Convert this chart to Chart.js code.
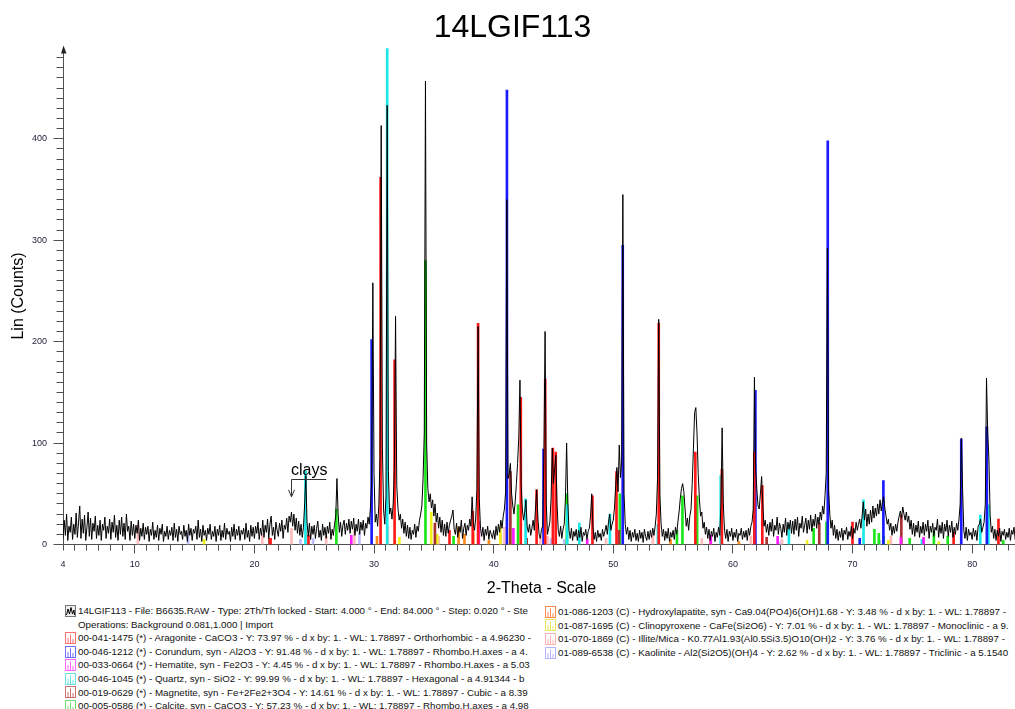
<!DOCTYPE html>
<html>
<head>
<meta charset="utf-8">
<title>14LGIF113</title>
<script src="https://cdn.jsdelivr.net/npm/chart.js@4.4.1/dist/chart.umd.min.js"></script>
<style>
    html, body { margin: 0; padding: 0; background: #fff; overflow: hidden; }
    #wrap { position: relative; width: 1015px; height: 709px; overflow: hidden; }
    #xrd { position: absolute; left: 0; top: 0; }
    .legend { position: absolute; font-family: "Liberation Sans", Arial, sans-serif; font-size: 9.75px; color: #111; white-space: nowrap; overflow: hidden; }
    .legend .row { height: 13.6px; line-height: 13.6px; display: flex; align-items: center; }
    .legend svg { flex: none; margin-right: 2px; }
    .legend .indent { padding-left: 13px; }
</style>
</head>
<body>
<div id="wrap">
    <canvas id="xrd" width="1035" height="600" style="width:1035px;height:600px"></canvas>
    <div class="legend" id="legend-left" style="left:65px;top:604px;width:468px"></div>
    <div class="legend" id="legend-right" style="left:545px;top:605px;width:470px"></div>
</div>
<script>
// scan: Start 4.000, counts read every 0.1 deg (one row per degree)
const angleStart = 4.0;
const angleStep = 0.1;
const counts = [
    6, 24, 9, 30, 4, 18, 12, 27, 5, 20,        // 4
    10, 31, 7, 22, 38, 6, 25, 11, 29, 4,       // 5
    17, 32, 8, 26, 5, 21, 13, 28, 6, 19,       // 6
    9, 24, 4, 20, 14, 27, 6, 18, 11, 25,       // 7
    5, 22, 12, 29, 7, 19, 4, 24, 10, 27,       // 8
    8, 21, 5, 30, 13, 18, 4, 23, 9, 20,        // 9
    6, 19, 11, 24, 4, 16, 8, 21, 5, 17,        // 10
    10, 18, 3, 15, 9, 22, 5, 14, 7, 19,        // 11
    4, 16, 10, 20, 3, 13, 8, 18, 5, 14,        // 12
    9, 17, 4, 21, 7, 15, 3, 18, 10, 13,        // 13
    5, 19, 8, 14, 3, 20, 9, 16, 4, 15,         // 14
    11, 18, 5, 24, 7, 15, 3, 19, 9, 14,        // 15
    4, 16, 10, 20, 5, 13, 8, 18, 3, 15,        // 16
    9, 19, 4, 14, 7, 21, 5, 16, 10, 13,        // 17
    3, 17, 8, 20, 5, 15, 9, 18, 4, 14,         // 18
    10, 16, 5, 21, 7, 14, 3, 19, 8, 17,        // 19
    6, 18, 11, 22, 5, 16, 9, 24, 7, 19,        // 20
    12, 25, 6, 20, 28, 9, 17, 5, 22, 14,       // 21
    8, 21, 13, 24, 6, 19, 15, 26, 12, 28,      // 22
    22, 32, 18, 30, 14, 26, 11, 23, 9, 20,     // 23
    7, 17, 40, 68, 22, 8, 21, 5, 18, 10,       // 24
    19, 6, 16, 23, 7, 14, 4, 20, 9, 17,        // 25
    6, 18, 11, 22, 5, 15, 9, 20, 28, 65,       // 26
    30, 12, 22, 8, 19, 24, 10, 21, 14, 25,     // 27
    11, 23, 15, 26, 9, 20, 13, 25, 10, 22,     // 28
    14, 24, 9, 21, 16, 27, 20, 36, 62, 258,    // 29
    70, 22, 30, 18, 38, 85, 413, 95, 34, 20,   // 30
    48, 433, 72, 30, 36, 25, 40, 75, 225, 58,  // 31
    36, 24, 30, 16, 25, 11, 22, 8, 19, 6,      // 32
    17, 5, 14, 10, 20, 7, 18, 13, 24, 30,      // 33
    38, 65, 110, 457, 100, 55, 42, 50, 36, 44, // 34
    28, 40, 22, 31, 16, 27, 12, 24, 9, 20,     // 35
    8, 22, 11, 19, 24, 28, 34, 15, 10, 21,     // 36
    7, 18, 12, 24, 6, 16, 21, 9, 19, 14,       // 37
    25, 18, 47, 22, 14, 26, 55, 215, 45, 16,   // 38
    8, 17, 4, 15, 9, 18, 5, 14, 10, 6,         // 39
    14, 5, 18, 9, 20, 12, 24, 16, 28, 35,      // 40
    52, 340, 65, 70, 80, 50, 38, 30, 42, 60,   // 41
    80, 105, 162, 60, 34, 24, 32, 44, 18, 12,  // 42
    20, 9, 16, 24, 14, 36, 54, 26, 10, 6,      // 43
    15, 18, 90, 210, 40, 10, 16, 22, 45, 95,   // 44
    60, 75, 88, 40, 14, 8, 18, 6, 15, 20,      // 45
    45, 100, 42, 14, 6, 16, 4, 13, 8, 15,      // 46
    4, 14, 7, 17, 3, 12, 9, 15, 5, 13,         // 47
    16, 28, 50, 18, 5, 12, 3, 14, 7, 11,       // 48
    4, 15, 8, 13, 19, 10, 22, 30, 14, 20,      // 49
    24, 36, 58, 76, 52, 98, 66, 82, 345, 50,   // 50
    20, 10, 17, 5, 14, 3, 12, 7, 15, 4,        // 51
    11, 3, 14, 6, 12, 2, 15, 8, 4, 13,         // 52
    5, 14, 7, 16, 9, 18, 30, 65, 222, 48,      // 53
    20, 8, 15, 4, 13, 6, 16, 3, 12, 7,         // 54
    14, 5, 17, 10, 22, 32, 45, 55, 60, 52,     // 55
    35, 18, 26, 14, 28, 35, 60, 95, 130, 135,  // 56
    110, 70, 45, 28, 32, 16, 22, 10, 17, 6,    // 57
    15, 4, 13, 8, 16, 3, 12, 7, 17, 9,         // 58
    40, 115, 40, 14, 6, 15, 3, 13, 8, 16,      // 59
    4, 12, 7, 15, 3, 11, 9, 16, 5, 13,         // 60
    7, 14, 4, 16, 9, 18, 22, 35, 165, 75,      // 61
    55, 38, 35, 50, 67, 40, 18, 24, 12, 20,    // 62
    9, 22, 13, 25, 8, 19, 14, 27, 10, 21,      // 63
    16, 7, 20, 12, 26, 9, 22, 15, 24, 11,      // 64
    23, 10, 25, 14, 27, 8, 21, 16, 28, 12,     // 65
    19, 26, 11, 24, 15, 29, 13, 25, 18, 30,    // 66
    16, 27, 20, 32, 24, 38, 30, 48, 70, 292,   // 67
    55, 30, 16, 24, 9, 19, 6, 15, 4, 13,       // 68
    7, 16, 4, 14, 10, 17, 5, 13, 8, 18,        // 69
    6, 16, 11, 22, 14, 20, 25, 16, 28, 42,     // 70
    24, 35, 18, 30, 20, 34, 22, 38, 26, 36,    // 71
    28, 40, 30, 44, 33, 42, 47, 36, 28, 20,    // 72
    25, 14, 21, 9, 18, 11, 20, 13, 22, 28,     // 73
    33, 26, 37, 30, 24, 32, 22, 28, 15, 24,    // 74
    10, 21, 8, 19, 12, 23, 7, 18, 11, 22,      // 75
    9, 20, 13, 24, 6, 18, 12, 21, 8, 17,       // 76
    14, 25, 7, 19, 11, 22, 6, 20, 13, 24,      // 77
    8, 19, 12, 23, 7, 17, 10, 21, 14, 25,      // 78
    40, 105, 55, 14, 6, 17, 4, 15, 9, 12,      // 79
    5, 16, 8, 14, 4, 18, 20, 25, 12, 17,       // 80
    22, 40, 164, 110, 85, 30, 12, 18, 6, 15,   // 81
    4, 14, 8, 16, 3, 13, 9, 15, 5, 12,         // 82
    7, 16, 4, 14, 10, 17, 5, 13, 8, 15,        // 83
    9                                          // 84
];

// stick patterns [2-theta, height], heights already scaled by Y %
const aragonite = [[24.52, 9], [30.55, 362], [31.72, 182], [36.31, 14], [38.25, 33], [38.70, 218], [42.27, 145],
    [43.59, 54], [44.31, 163], [44.95, 95], [45.19, 91], [48.26, 48], [50.27, 72], [53.80, 218], [56.86, 91],
    [59.08, 74], [61.79, 91], [62.46, 58], [70.0, 22], [78.45, 12], [82.2, 25], [21.35, 6]];
const corundum = [[29.80, 202], [41.11, 448], [44.17, 94], [50.79, 295], [61.88, 152], [67.93, 398],
    [70.6, 6], [72.58, 63], [79.09, 104], [81.23, 116]];
const hematite = [[28.10, 9], [38.76, 23], [41.65, 16], [47.82, 5], [58.15, 9], [63.74, 8], [74.04, 7], [75.94, 7]];
const quartz = [[24.27, 73], [31.10, 489], [42.67, 45], [46.15, 39], [47.16, 21], [49.72, 30], [53.73, 20],
    [58.98, 68], [64.68, 20], [70.92, 44], [75.8, 5], [80.68, 29], [81.36, 39]];
const magnetite = [[21.26, 6], [35.09, 21], [41.40, 72], [42.76, 6], [50.47, 14], [62.82, 7], [67.22, 21], [74.08, 29]];
const calcite = [[26.85, 35], [34.30, 280], [36.65, 8], [42.04, 39], [46.12, 50], [50.55, 50], [55.32, 14],
    [55.78, 48], [57.01, 48], [66.75, 16], [67.82, 22], [71.83, 15], [72.20, 11], [72.60, 8], [74.78, 6],
    [76.80, 13], [77.96, 8], [82.6, 4]];
const hydroxylapatite = [[30.25, 8], [37.07, 17], [37.56, 10], [38.30, 12], [39.6, 4], [54.79, 5], [58.13, 7], [60.5, 3]];
const clinopyroxene = [[15.8, 5], [31.75, 4], [32.12, 7], [34.78, 32], [35.28, 10], [40.56, 17], [41.36, 16],
    [66.2, 4], [73.0, 4], [77.2, 3]];
const illite = [[10.27, 19], [20.66, 10], [23.10, 16], [26.0, 8], [28.36, 14], [31.16, 18], [35.4, 8], [40.6, 11],
    [40.9, 17], [43.9, 8], [44.5, 8], [49.4, 6], [53.3, 10], [57.4, 6], [61.5, 8], [64.1, 5], [73.2, 8]];
const kaolinite = [[14.45, 12], [23.85, 5], [24.9, 6], [28.78, 12], [44.8, 6], [45.9, 5], [64.0, 3], [72.3, 4]];

const stickSets = [aragonite, corundum, hematite, quartz, magnetite, calcite, hydroxylapatite, clinopyroxene, illite, kaolinite];
const stickColors = ["#ff1a1a", "#1a1aff", "#ff1aff", "#1ae8e8", "#a83232", "#1ae61a", "#ff8a1a", "#f0f01a", "#ffbcbc", "#bcbcff"];
const iconColors = ["#ff7070", "#7070ff", "#ff66ff", "#66e0e0", "#cc7070", "#70e070", "#ff8a50", "#e8e860", "#ffb4b4", "#b4b4ff"];

const scanLines = [
    "14LGIF113 - File: B6635.RAW - Type: 2Th/Th locked - Start: 4.000 ° - End: 84.000 ° - Step: 0.020 ° - Ste",
    "Operations: Background 0.081,1.000 | Import"
];
const phaseLines = [
    "00-041-1475 (*) - Aragonite - CaCO3 - Y: 73.97 % - d x by: 1. - WL: 1.78897 - Orthorhombic - a 4.96230 -",
    "00-046-1212 (*) - Corundum, syn - Al2O3 - Y: 91.48 % - d x by: 1. - WL: 1.78897 - Rhombo.H.axes - a 4.",
    "00-033-0664 (*) - Hematite, syn - Fe2O3 - Y: 4.45 % - d x by: 1. - WL: 1.78897 - Rhombo.H.axes - a 5.03",
    "00-046-1045 (*) - Quartz, syn - SiO2 - Y: 99.99 % - d x by: 1. - WL: 1.78897 - Hexagonal - a 4.91344 - b",
    "00-019-0629 (*) - Magnetite, syn - Fe+2Fe2+3O4 - Y: 14.61 % - d x by: 1. - WL: 1.78897 - Cubic - a 8.39",
    "00-005-0586 (*) - Calcite, syn - CaCO3 - Y: 57.23 % - d x by: 1. - WL: 1.78897 - Rhombo.H.axes - a 4.98",
    "01-086-1203 (C) - Hydroxylapatite, syn - Ca9.04(PO4)6(OH)1.68 - Y: 3.48 % - d x by: 1. - WL: 1.78897 -",
    "01-087-1695 (C) - Clinopyroxene - CaFe(Si2O6) - Y: 7.01 % - d x by: 1. - WL: 1.78897 - Monoclinic - a 9.",
    "01-070-1869 (C) - Illite/Mica - K0.77Al1.93(Al0.5Si3.5)O10(OH)2 - Y: 3.76 % - d x by: 1. - WL: 1.78897 -",
    "01-089-6538 (C) - Kaolinite - Al2(Si2O5)(OH)4 - Y: 2.62 % - d x by: 1. - WL: 1.78897 - Triclinic - a 5.1540"
];

const FONT = '"Liberation Sans", Arial, sans-serif';
Chart.defaults.font.family = FONT;

const tracePoints = counts.map((c, i) => ({ x: Math.round((angleStart + i * angleStep) * 100) / 100, y: c }));

const datasets = [{
    type: "line",
    label: "14LGIF113",
    data: tracePoints,
    borderColor: "#000",
    borderWidth: 1,
    pointRadius: 0,
    tension: 0,
    fill: false,
    order: 0
}];
stickSets.forEach((set, i) => {
    datasets.push({
        type: "bar",
        label: phaseLines[i].split(" - ")[1],
        data: set.map(s => ({ x: s[0], y: s[1] })),
        backgroundColor: stickColors[i],
        borderWidth: 0,
        barThickness: 2,
        grouped: false,
        order: 1
    });
});

// axis lines, ticks and the arrow at the top of the y axis
const axesPlugin = {
    id: "xrdAxes",
    beforeDatasetsDraw(chart) {
        const { ctx, chartArea: a, scales: { x, y } } = chart;
        const x0 = Math.floor(a.left) + 0.5;
        const y0 = Math.floor(a.bottom) + 0.5;
        ctx.save();
        ctx.strokeStyle = "#505050";
        ctx.lineWidth = 1;
        ctx.beginPath();
        ctx.moveTo(x0, a.top + 2);
        ctx.lineTo(x0, y0);
        ctx.lineTo(a.right, y0);
        for (let v = 0; v <= 480; v += 10) {
            const py = Math.floor(y.getPixelForValue(v)) + 0.5;
            ctx.moveTo(x0 - (v % 100 === 0 ? 10 : 7), py);
            ctx.lineTo(x0, py);
        }
        for (let v = 4; v <= 84; v++) {
            const px = Math.floor(x.getPixelForValue(v)) + 0.5;
            ctx.moveTo(px, y0);
            ctx.lineTo(px, y0 + (v % 10 === 0 ? 9 : 6));
        }
        ctx.stroke();
        ctx.fillStyle = "#222";
        ctx.beginPath();
        ctx.moveTo(x0, a.top - 2);
        ctx.lineTo(x0 - 2.5, a.top + 6);
        ctx.lineTo(x0 + 3, a.top + 6);
        ctx.closePath();
        ctx.fill();
        ctx.restore();
    }
};

// "clays" mark with its bracket arrow
const clayPlugin = {
    id: "clayMark",
    afterDatasetsDraw(chart) {
        const { ctx, scales: { x, y } } = chart;
        const xl = Math.floor(x.getPixelForValue(23.1)) + 0.5;
        const xr = x.getPixelForValue(26.0);
        const yb = Math.floor(y.getPixelForValue(64.5)) + 0.5;
        const tip = y.getPixelForValue(47);
        ctx.save();
        ctx.strokeStyle = "#333";
        ctx.lineWidth = 1;
        ctx.beginPath();
        ctx.moveTo(xr, yb);
        ctx.lineTo(xl, yb);
        ctx.lineTo(xl, tip);
        ctx.moveTo(xl - 3, tip - 7);
        ctx.lineTo(xl, tip);
        ctx.lineTo(xl + 3, tip - 7);
        ctx.stroke();
        ctx.fillStyle = "#000";
        ctx.font = "16px " + FONT;
        ctx.textBaseline = "alphabetic";
        ctx.fillText("clays", xl - 0.5, yb - 4.5);
        ctx.restore();
    }
};

new Chart(document.getElementById("xrd").getContext("2d"), {
    data: { datasets },
    options: {
        responsive: false,
        animation: false,
        events: [],
        layout: { padding: { left: 0, right: 10, top: 0, bottom: 0 } },
        plugins: {
            legend: { display: false },
            tooltip: { enabled: false },
            title: {
                display: true,
                text: "14LGIF113",
                color: "#000",
                font: { size: 32, weight: "normal", family: FONT },
                padding: { top: 9.1, bottom: 0 }
            }
        },
        scales: {
            x: {
                type: "linear",
                min: 4,
                max: 84,
                offset: false,
                grid: { display: false, drawTicks: false },
                border: { display: false },
                ticks: {
                    stepSize: 1,
                    autoSkip: false,
                    maxRotation: 0,
                    padding: 15,
                    color: "#1c1c3a",
                    font: { size: 9 },
                    callback: v => (v === 4 || v % 10 === 0) ? String(v) : ""
                },
                title: {
                    display: true,
                    text: "2-Theta - Scale",
                    color: "#000",
                    font: { size: 16 },
                    padding: { top: 0, bottom: 1.4 }
                },
                afterFit: s => { s.height = 55.5; }
            },
            y: {
                type: "linear",
                min: 0,
                max: 490,
                grid: { display: false, drawTicks: false },
                border: { display: false },
                ticks: {
                    stepSize: 10,
                    autoSkip: false,
                    padding: 16,
                    color: "#1c1c3a",
                    font: { size: 9 },
                    callback: v => v % 100 === 0 ? String(v) : ""
                },
                title: {
                    display: true,
                    text: "Lin (Counts)",
                    color: "#000",
                    font: { size: 16 },
                    padding: { top: 9.4, bottom: 0 }
                },
                afterFit: s => { s.width = 63; }
            }
        }
    },
    plugins: [axesPlugin, clayPlugin]
});

// legend block under the chart
function stickIcon(color) {
    return `<svg width="11" height="12" viewBox="0 0 11 12"><rect x="0.5" y="0.5" width="10" height="11" fill="#fff" stroke="${color}"/>` +
        `<path d="M3 11V6M5.5 11V2.5M8 11V7" stroke="${color}" stroke-width="1"/></svg>`;
}
function scanIcon() {
    return `<svg width="11" height="12" viewBox="0 0 11 12"><rect x="0.5" y="0.5" width="10" height="11" fill="#eee" stroke="#777"/>` +
        `<path d="M1.5 10L3 4L4.5 9L6 2.5L7.5 9L9 5L9.5 10" fill="none" stroke="#000" stroke-width="1"/></svg>`;
}

const left = document.getElementById("legend-left");
const right = document.getElementById("legend-right");
left.innerHTML += `<div class="row">${scanIcon()}<span>${scanLines[0]}</span></div>`;
left.innerHTML += `<div class="row indent"><span>${scanLines[1]}</span></div>`;
phaseLines.forEach((line, i) => {
    const html = `<div class="row">${stickIcon(iconColors[i])}<span>${line}</span></div>`;
    if (i < 6) left.innerHTML += html;
    else right.innerHTML += html;
});
</script>
</body>
</html>
